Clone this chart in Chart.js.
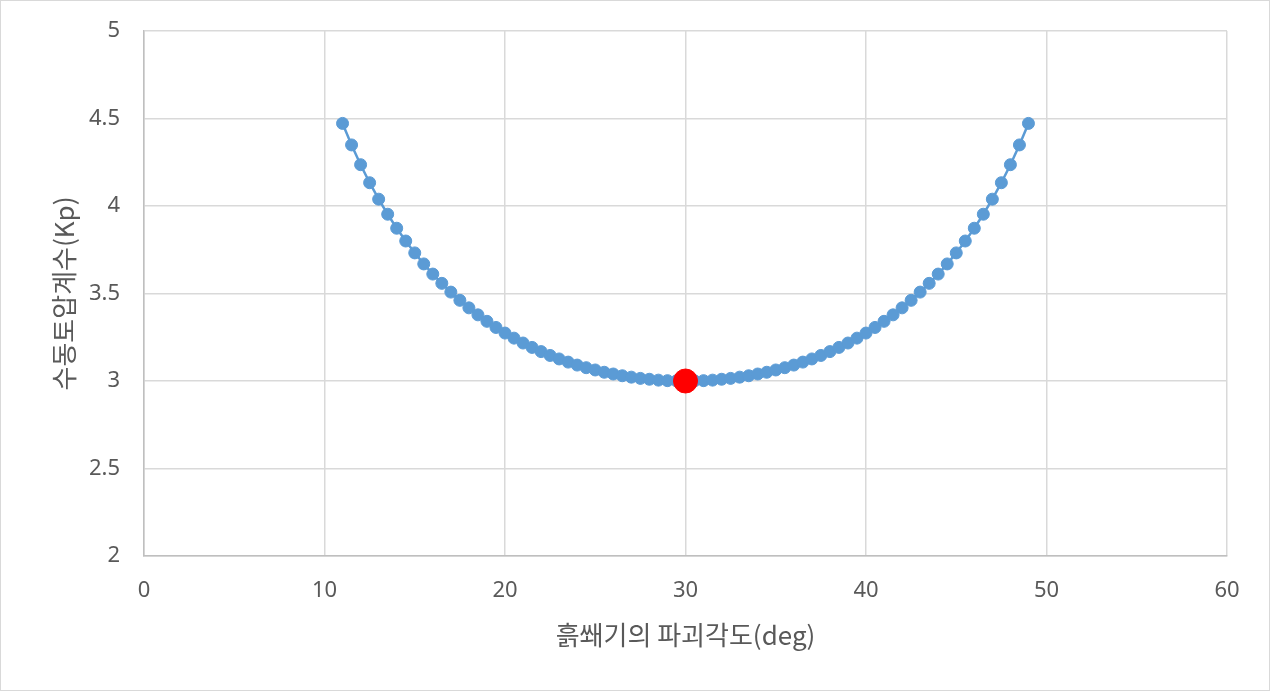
<!DOCTYPE html>
<html>
<head>
<meta charset="utf-8">
<script src="https://cdn.jsdelivr.net/npm/chart.js@4"></script>
<style>
  body { margin: 0; background: #fff; }
  #wrap { width: 1270px; height: 691px; box-sizing: border-box; border: 1px solid #d9d9d9; }
</style>
</head>
<body>
<div id="wrap"><canvas id="kp-chart" width="1268" height="689"></canvas></div>
<script>
// failure angle of the soil wedge (deg)
const angles = [11, 11.5, 12, 12.5, 13, 13.5, 14, 14.5, 15, 15.5, 16, 16.5, 17, 17.5, 18, 18.5, 19, 19.5,
  20, 20.5, 21, 21.5, 22, 22.5, 23, 23.5, 24, 24.5, 25, 25.5, 26, 26.5, 27, 27.5, 28, 28.5, 29, 29.5,
  30, 30.5, 31, 31.5, 32, 32.5, 33, 33.5, 34, 34.5, 35, 35.5, 36, 36.5, 37, 37.5, 38, 38.5, 39, 39.5,
  40, 40.5, 41, 41.5, 42, 42.5, 43, 43.5, 44, 44.5, 45, 45.5, 46, 46.5, 47, 47.5, 48, 48.5, 49];
// passive earth pressure coefficient
const kpValues = [4.472, 4.349, 4.236, 4.133, 4.039, 3.953, 3.873, 3.800, 3.732, 3.669, 3.611, 3.558,
  3.508, 3.461, 3.418, 3.378, 3.341, 3.306, 3.274, 3.245, 3.217, 3.192, 3.168, 3.146, 3.126, 3.108,
  3.091, 3.076, 3.063, 3.050, 3.040, 3.030, 3.022, 3.015, 3.010, 3.005, 3.002, 3.001, 3.000,
  3.001, 3.002, 3.005, 3.010, 3.015, 3.022, 3.030, 3.040, 3.050, 3.063, 3.076, 3.091, 3.108, 3.126,
  3.146, 3.168, 3.192, 3.217, 3.245, 3.274, 3.306, 3.341, 3.378, 3.418, 3.461, 3.508, 3.558, 3.611,
  3.669, 3.732, 3.800, 3.873, 3.953, 4.039, 4.133, 4.236, 4.349, 4.472];
// minimum point
const minAngle = [30];
const minKp = [3.0];

const xTicks = [0, 10, 20, 30, 40, 50, 60];
const yTicks = [2, 2.5, 3, 3.5, 4, 4.5, 5];

const toPoints = (xs, ys) => xs.map((x, i) => ({ x: x, y: ys[i] }));

const tickFont = { family: "'Noto Sans', sans-serif", size: 22 };
const titleFont = { family: "'Noto Sans CJK KR', sans-serif", size: 26 };

new Chart(document.getElementById("kp-chart"), {
  type: "scatter",
  data: {
    datasets: [
      {
        data: toPoints(minAngle, minKp),
        backgroundColor: "#ff0000",
        borderColor: "#ff0000",
        pointRadius: 12,
        pointHoverRadius: 12
      },
      {
        data: toPoints(angles, kpValues),
        showLine: true,
        borderColor: "#5b9bd5",
        backgroundColor: "#5b9bd5",
        borderWidth: 2.5,
        pointRadius: 6,
        pointBorderWidth: 1,
        pointHoverRadius: 6
      }
    ]
  },
  options: {
    responsive: false,
    animation: false,
    layout: {
      padding: { left: 0, right: 42, top: 30, bottom: 0 }
    },
    plugins: {
      legend: { display: false },
      tooltip: { enabled: false }
    },
    scales: {
      x: {
        type: "linear",
        min: 0,
        max: 60,
        afterBuildTicks: (scale) => { scale.ticks = xTicks.map(v => ({ value: v })); },
        afterFit: (scale) => {
          scale.height = 134;
          scale.paddingLeft = 0;
          scale.paddingRight = 0;
        },
        grid: { color: "#d9d9d9", lineWidth: 1.5, drawTicks: false },
        border: { color: "#bfbfbf", width: 1.5 },
        ticks: { color: "#595959", font: tickFont, padding: 22, maxRotation: 0 },
        title: {
          display: true,
          text: "흙쐐기의 파괴각도(deg)",
          color: "#595959",
          font: titleFont,
          padding: { top: 0, bottom: 39 }
        }
      },
      y: {
        type: "linear",
        min: 2,
        max: 5,
        afterBuildTicks: (scale) => { scale.ticks = yTicks.map(v => ({ value: v })); },
        afterFit: (scale) => {
          scale.width = 143;
          scale.paddingTop = 0;
          scale.paddingBottom = 0;
        },
        grid: { color: "#d9d9d9", lineWidth: 1.5, drawTicks: false },
        border: { color: "#bfbfbf", width: 1.5 },
        ticks: {
          color: "#595959",
          font: tickFont,
          padding: 24,
          callback: (value) => String(value)
        },
        title: {
          display: true,
          text: "수동토압계수(Kp)",
          color: "#595959",
          font: titleFont,
          padding: { top: 48, bottom: 0 }
        }
      }
    }
  }
});
</script>
</body>
</html>
